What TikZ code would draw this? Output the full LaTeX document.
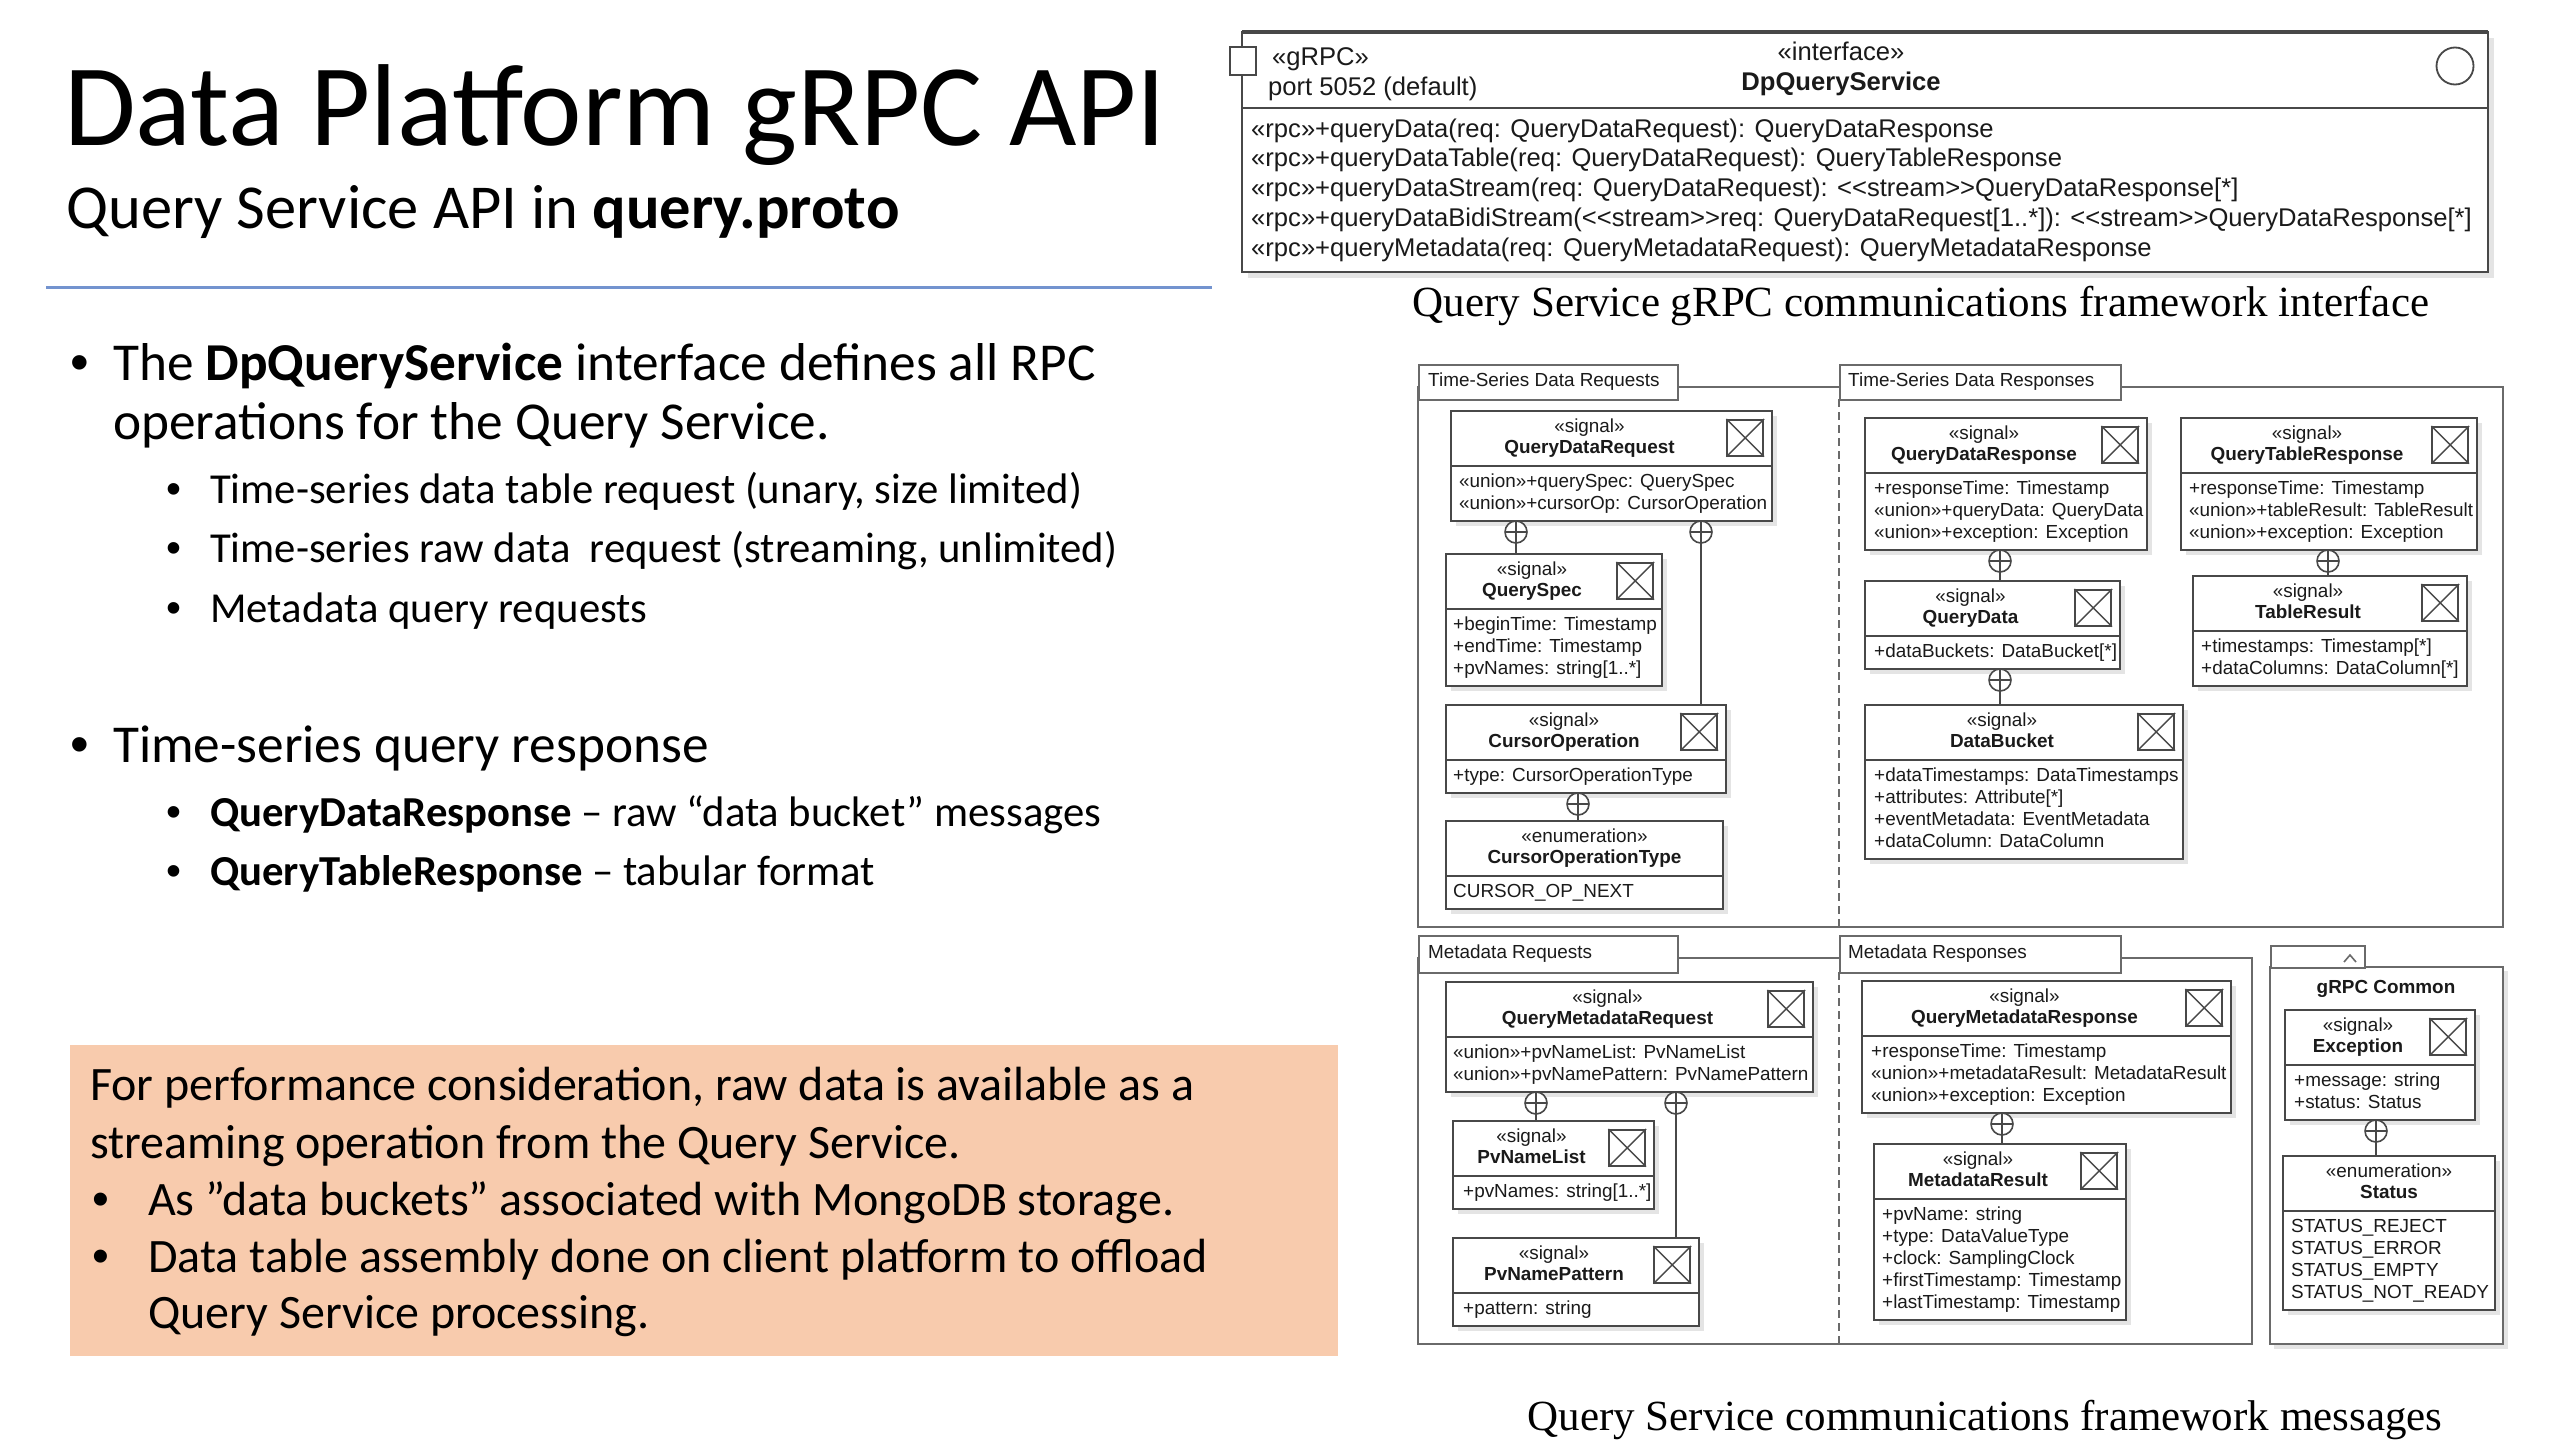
\documentclass[tikz,border=0pt]{standalone}
\usepackage{fontspec}
\setmainfont{Carlito}
\newfontfamily\umlf{Liberation Sans}
\newfontfamily\bulf{Liberation Sans}
\newfontfamily\capf{Liberation Serif}
\usetikzlibrary{calc}
\definecolor{peach}{HTML}{F8CBAD}
\definecolor{rulec}{HTML}{7393CF}
\definecolor{umlline}{HTML}{484848}
\definecolor{umltext}{HTML}{1A1A1A}
\definecolor{framec}{HTML}{6A6A6A}
\definecolor{shadowc}{HTML}{E4E4E4}
\tikzset{
  umlbox/.style={draw=umlline, fill=white, line width=1.8pt, rectangle, inner sep=0pt, outer sep=0pt, anchor=north west},
  umltxt/.style={font=\umlf\fontsize{18.9}{22}\selectfont, text=umltext, inner sep=0pt},
  umlname/.style={font=\umlf\bfseries\fontsize{18.9}{22}\selectfont, text=umltext, inner sep=0pt},
  ifacetxt/.style={font=\umlf\fontsize{25.6}{30}\selectfont, text=umltext, inner sep=0pt},
  ifacename/.style={font=\umlf\bfseries\fontsize{25.6}{30}\selectfont, text=umltext, inner sep=0pt},
  compc/.style={circle, draw=umlline, fill=white, line width=1.6pt, minimum size=22pt, inner sep=0pt, outer sep=0pt, anchor=north},
  conn/.style={draw=umlline, line width=1.8pt},
  framel/.style={draw=framec, line width=2pt},
  tabbox/.style={draw=framec, fill=white, line width=2pt, rectangle, inner sep=0pt, anchor=north west},
  lvlA/.style={anchor=base west, inner sep=0pt, font=\fontsize{53.3}{64}\selectfont},
  lvlB/.style={anchor=base west, inner sep=0pt, font=\fontsize{42.7}{52}\selectfont},
  dotA/.style={anchor=base west, inner sep=0pt, font=\bulf\fontsize{53.3}{64}\selectfont},
  dotB/.style={anchor=base west, inner sep=0pt, font=\bulf\fontsize{42.7}{52}\selectfont},
  notetxt/.style={anchor=base west, inner sep=0pt, font=\fontsize{48}{57}\selectfont},
  dotN/.style={anchor=base west, inner sep=0pt, font=\bulf\fontsize{48}{57}\selectfont},
  captxt/.style={anchor=base, inner sep=0pt, font=\capf\fontsize{43}{48}\selectfont},
}
% #1 name #2 x1 #3 y1 #4 x2 #5 number of attribute lines #6 stereotype #7 class name #8 icon flag
\newcommand{\ubox}[8]{%
  \pgfmathsetmacro\uw{#4-#2}%
  \pgfmathsetmacro\udiv{#3+55}%
  \pgfmathsetmacro\ubot{#3+55+11+22*#5}%
  \pgfmathsetmacro\uh{\ubot-#3}%
  \fill[shadowc] (#2+5,#3+5) rectangle (#4+5,\ubot+5);
  \node[umlbox, minimum width=\uw pt, minimum height=\uh pt] (#1) at (#2,#3) {};
  \draw[umlline, line width=1.8pt] (#2,\udiv) -- (#4,\udiv);
  \ifnum#8=1\relax
    \pgfmathsetmacro\ucx{(#2+#4-44)/2}%
    \node[draw=umlline, line width=1.6pt, minimum width=36pt, minimum height=36pt, inner sep=0pt, anchor=north east] (#1-ic) at (#4-8,#3+8) {};
    \draw[umlline, line width=1.4pt] (#1-ic.north west) -- (#1-ic.south east) (#1-ic.north east) -- (#1-ic.south west);
  \else
    \pgfmathsetmacro\ucx{(#2+#4)/2}%
  \fi
  \node[umltxt, anchor=base] (#1-st) at (\ucx,#3+21.5) {«#6»};
  \node[umlname, anchor=base] (#1-nm) at (\ucx,#3+42.5) {#7};
}
% #1 name #2 x #3 y1 of box #4 list
\newcommand{\uattr}[4]{%
  \foreach \t [count=\i] in {#4} {%
    \node[umltxt, anchor=base west] (#1-a\i) at (#2, {#3+55+21.5+22*(\i-1)}) {\t};
  }%
}
\newcommand{\ucomp}[3]{%
  \node[compc] (#1) at (#2,#3) {};
  \draw[umlline, line width=1.4pt] (#1.north) -- (#1.south) (#1.west) -- (#1.east);
}
\begin{document}
\begin{tikzpicture}[x=1pt,y=-1pt]
\useasboundingbox (0,0) rectangle (2560,1440);
\fill[white] (0,0) rectangle (2560,1440);

% ---------- left column ----------
\node[anchor=base west, inner sep=0pt, font=\fontsize{116.5}{120}\selectfont] (title) at (64,145) {Data Platform gRPC API};
\node[anchor=base west, inner sep=0pt, font=\fontsize{62.5}{70}\selectfont] (subtitle) at (66,228) {Query Service API in \textbf{query.proto}};
\coordinate (ruleA) at (46,287);
\coordinate (ruleB) at (1212,287);
\draw[rulec, line width=3pt] (ruleA) -- (ruleB);

\node[dotA] (b1dot) at (70,380) {•};
\node[lvlA] (b1) at (113,380) {The \textbf{DpQueryService} interface defines all RPC};
\node[lvlA] (b1b) at (113,439) {operations for the Query Service.};
\node[dotB] (s1dot) at (166,503) {•};
\node[lvlB] (s1) at (210,503) {Time-series data table request (unary, size limited)};
\node[dotB] (s2dot) at (166,562) {•};
\node[lvlB] (s2) at (210,562) {Time-series raw data\ \ request (streaming, unlimited)};
\node[dotB] (s3dot) at (166,622) {•};
\node[lvlB] (s3) at (210,622) {Metadata query requests};
\node[dotA] (b2dot) at (70,762) {•};
\node[lvlA] (b2) at (113,762) {Time-series query response};
\node[dotB] (s4dot) at (166,826) {•};
\node[lvlB] (s4) at (210,826) {\textbf{QueryDataResponse} – raw “data bucket” messages};
\node[dotB] (s5dot) at (166,885) {•};
\node[lvlB] (s5) at (210,885) {\textbf{QueryTableResponse} – tabular format};

\node[fill=peach, minimum width=1268pt, minimum height=311pt, inner sep=0pt, anchor=north west] (note) at (70,1045) {};
\node[notetxt] (n1) at (90,1100) {For performance consideration, raw data is available as a};
\node[notetxt] (n2) at (90,1158) {streaming operation from the Query Service.};
\node[dotN] (n3dot) at (92,1215) {•};
\node[notetxt] (n3) at (148,1215) {As ”data buckets” associated with MongoDB storage.};
\node[dotN] (n4dot) at (92,1272) {•};
\node[notetxt] (n4) at (148,1272) {Data table assembly done on client platform to offload};
\node[notetxt] (n5) at (148,1328) {Query Service processing.};

% ---------- interface box ----------
\fill[shadowc] (1248,38) rectangle (2494,278);
\node[umlbox, minimum width=1246pt, minimum height=240pt] (iface) at (1242,32) {};
\draw[umlline, line width=4pt] (iface.north west) -- (iface.north east);
\draw[umlline, line width=2.2pt] (1242,108) -- (2488,108);
\node[draw=umlline, fill=white, line width=1.8pt, minimum width=26pt, minimum height=28pt, inner sep=0pt] (port) at (1243,61) {};
\node[circle, draw=umlline, line width=1.8pt, minimum size=37pt, inner sep=0pt] (lolli) at (2455,66) {};
\node[ifacetxt, anchor=base west] (grpc) at (1272,65) {«gRPC»};
\node[ifacetxt, anchor=base west] (portlbl) at (1268,95) {port 5052 (default)};
\node[ifacetxt, anchor=base] (ifst) at (1841,60) {«interface»};
\node[ifacename, anchor=base] (ifnm) at (1841,90) {DpQueryService};
\foreach \t [count=\i] in {
  {«rpc»+queryData(req: QueryDataRequest): QueryDataResponse},
  {«rpc»+queryDataTable(req: QueryDataRequest): QueryTableResponse},
  {«rpc»+queryDataStream(req: QueryDataRequest): <<stream>>QueryDataResponse[*]},
  {«rpc»+queryDataBidiStream(<<stream>>req: QueryDataRequest[1..*]): <<stream>>QueryDataResponse[*]},
  {«rpc»+queryMetadata(req: QueryMetadataRequest): QueryMetadataResponse}} {
  \node[ifacetxt, anchor=base west] (rpc\i) at (1251, {137+29.75*(\i-1)}) {\t};
}
\node[captxt] (cap1) at (1921,316) {Query Service gRPC communications framework interface};

% ---------- package frames ----------
\draw[framel] (1418,387) rectangle (2503,927);
\draw[framel, dash pattern=on 8pt off 5pt] (1839,399) -- (1839,927);
\node[tabbox, minimum width=259pt, minimum height=35pt] (tab1) at (1418,364) {};
\node[umltxt, anchor=base west] (tab1t) at (1428,386) {Time-Series Data Requests};
\node[tabbox, minimum width=281pt, minimum height=35pt] (tab2) at (1839,364) {};
\node[umltxt, anchor=base west] (tab2t) at (1848,386) {Time-Series Data Responses};

\draw[framel] (1418,958) rectangle (2252,1344);
\draw[framel, dash pattern=on 8pt off 5pt] (1839,972) -- (1839,1344);
\node[tabbox, minimum width=259pt, minimum height=37pt] (tab3) at (1418,935) {};
\node[umltxt, anchor=base west] (tab3t) at (1428,958) {Metadata Requests};
\node[tabbox, minimum width=281pt, minimum height=37pt] (tab4) at (1839,935) {};
\node[umltxt, anchor=base west] (tab4t) at (1848,958) {Metadata Responses};

\fill[shadowc] (2274,971) rectangle (2508,1349);
\draw[framel, fill=white] (2270,967) rectangle (2503,1344);
\node[tabbox, minimum width=94pt, minimum height=22pt] (tab5) at (2270,945) {};
\draw[framel, line width=1.6pt] (2344,962) -- (2350,955) -- (2356,962);
\node[umlname, anchor=base] (grpcc) at (2386,993) {gRPC Common};

% ---------- time-series requests ----------
\ubox{qdr}{1451}{411}{1772}{2}{signal}{QueryDataRequest}{1}
\uattr{qdr}{1459}{411}{«union»+querySpec: QuerySpec, «union»+cursorOp: CursorOperation}
\ubox{qs}{1446}{554}{1662}{3}{signal}{QuerySpec}{1}
\uattr{qs}{1453}{554}{+beginTime: Timestamp, +endTime: Timestamp, +pvNames: string[1..*]}
\ubox{co}{1446}{705}{1726}{1}{signal}{CursorOperation}{1}
\uattr{co}{1453}{705}{+type: CursorOperationType}
\ubox{cot}{1446}{821}{1723}{1}{enumeration}{CursorOperationType}{0}
\uattr{cot}{1453}{821}{CURSOR\_OP\_NEXT}
\ucomp{cqdr1}{1516}{521}
\ucomp{cqdr2}{1701}{521}
\ucomp{cco}{1578}{793}
\draw[conn] (cqdr1.south) -- (cqdr1.south |- qs.north);
\draw[conn] (cqdr2.south) -- (cqdr2.south |- co.north);
\draw[conn] (cco.south) -- (cco.south |- cot.north);

% ---------- time-series responses ----------
\ubox{qdresp}{1865}{418}{2147}{3}{signal}{QueryDataResponse}{1}
\uattr{qdresp}{1874}{418}{+responseTime: Timestamp, «union»+queryData: QueryData, «union»+exception: Exception}
\ubox{qd}{1865}{581}{2120}{1}{signal}{QueryData}{1}
\uattr{qd}{1874}{581}{+dataBuckets: DataBucket[*]}
\ubox{db}{1865}{705}{2183}{4}{signal}{DataBucket}{1}
\uattr{db}{1874}{705}{+dataTimestamps: DataTimestamps, +attributes: Attribute[*], +eventMetadata: EventMetadata, +dataColumn: DataColumn}
\ubox{qtr}{2181}{418}{2477}{3}{signal}{QueryTableResponse}{1}
\uattr{qtr}{2189}{418}{+responseTime: Timestamp, «union»+tableResult: TableResult, «union»+exception: Exception}
\ubox{tr}{2193}{576}{2467}{2}{signal}{TableResult}{1}
\uattr{tr}{2201}{576}{+timestamps: Timestamp[*], +dataColumns: DataColumn[*]}
\ucomp{cqdresp}{2000}{550}
\ucomp{cqd}{2000}{669}
\ucomp{cqtr}{2328}{550}
\draw[conn] (cqdresp.south) -- (cqdresp.south |- qd.north);
\draw[conn] (cqd.south) -- (cqd.south |- db.north);
\draw[conn] (cqtr.south) -- (cqtr.south |- tr.north);

% ---------- metadata requests ----------
\ubox{qmr}{1446}{982}{1813}{2}{signal}{QueryMetadataRequest}{1}
\uattr{qmr}{1453}{982}{«union»+pvNameList: PvNameList, «union»+pvNamePattern: PvNamePattern}
\ubox{pnl}{1453}{1121}{1654}{1}{signal}{PvNameList}{1}
\uattr{pnl}{1463}{1121}{+pvNames: string[1..*]}
\ubox{pnp}{1453}{1238}{1699}{1}{signal}{PvNamePattern}{1}
\uattr{pnp}{1463}{1238}{+pattern: string}
\ucomp{cqmr1}{1536}{1092}
\ucomp{cqmr2}{1676}{1092}
\draw[conn] (cqmr1.south) -- (cqmr1.south |- pnl.north);
\draw[conn] (cqmr2.south) -- (cqmr2.south |- pnp.north);

% ---------- metadata responses ----------
\ubox{qmresp}{1862}{981}{2231}{3}{signal}{QueryMetadataResponse}{1}
\uattr{qmresp}{1871}{981}{+responseTime: Timestamp, «union»+metadataResult: MetadataResult, «union»+exception: Exception}
\ubox{mr}{1874}{1144}{2126}{5}{signal}{MetadataResult}{1}
\uattr{mr}{1882}{1144}{+pvName: string, +type: DataValueType, +clock: SamplingClock, +firstTimestamp: Timestamp, +lastTimestamp: Timestamp}
\ucomp{cqmresp}{2002}{1113}
\draw[conn] (cqmresp.south) -- (cqmresp.south |- mr.north);

% ---------- gRPC common ----------
\ubox{exc}{2285}{1010}{2475}{2}{signal}{Exception}{1}
\uattr{exc}{2294}{1010}{+message: string, +status: Status}
\ubox{st}{2283}{1156}{2495}{4}{enumeration}{Status}{0}
\uattr{st}{2291}{1156}{STATUS\_REJECT, STATUS\_ERROR, STATUS\_EMPTY, STATUS\_NOT\_READY}
\ucomp{cexc}{2376}{1120}
\draw[conn] (cexc.south) -- (cexc.south |- st.north);

\node[captxt] (cap2) at (1985,1430) {Query Service communications framework messages};
\end{tikzpicture}
\end{document}
